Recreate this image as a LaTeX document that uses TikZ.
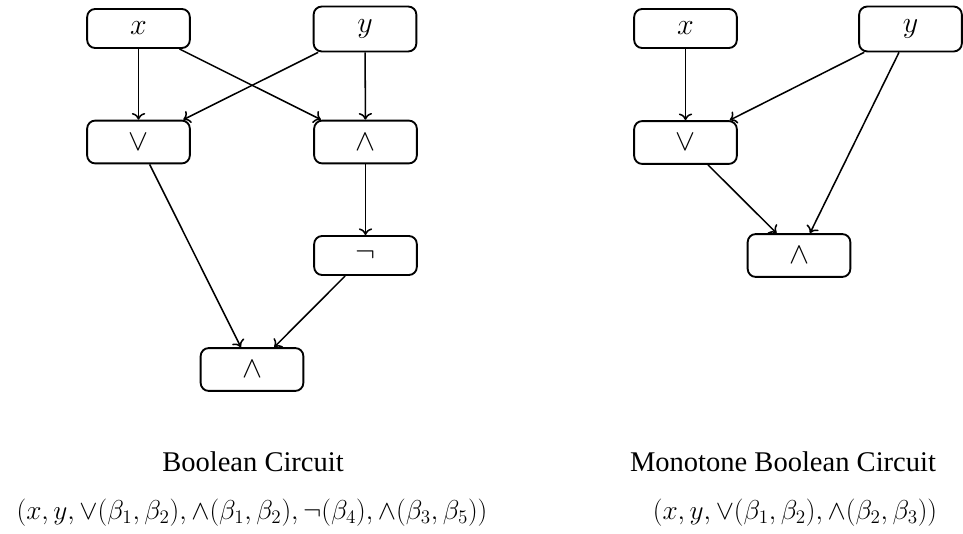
\RequirePackage{fix-cm}
\documentclass[tikz,border=0pt]{standalone}
\usepackage{fontspec}
\setmainfont{Liberation Serif}
\usetikzlibrary{arrows.meta}
\begin{document}
\begin{tikzpicture}[x=0.75pt,y=-0.75pt,
  gate/.style={draw,line width=1.4pt,rounded corners=6pt,minimum width=77pt,
    inner xsep=2pt,inner ysep=9.8pt,font=\fontsize{22.5}{27}\selectfont},
  wire/.style={line width=1.15pt,-{To[length=5pt,width=10pt]}},
  caption/.style={anchor=base,inner sep=0pt,font=\fontsize{21.4}{26}\selectfont},
  tuple/.style={anchor=base,inner sep=0pt,font=\fontsize{20.5}{25}\selectfont}]
\useasboundingbox (0,0) rectangle (963,534);
% left circuit
\node[gate] (lx) at (138.5,28.5) {$x$};
\node[gate] (ly) at (365,29) {$y$};
\node[gate] (lor) at (138.5,142) {$\vee$};
\node[gate] (land) at (365.5,142) {$\wedge$};
\node[gate] (lneg) at (365.5,255.5) {$\neg$};
\node[gate] (lout) at (252,369.5) {$\wedge$};
\draw[wire] (lx) -- (lor);
\draw[wire] (lx) -- (land);
\draw[wire] (ly) -- (lor);
\draw[wire] (ly) -- (land);
\draw[wire] (land) -- (lneg);
\draw[wire] (lor) -- (lout);
\draw[wire] (lneg) -- (lout);
% right circuit
\node[gate] (rx) at (685.5,28.5) {$x$};
\node[gate] (ry) at (910.5,29) {$y$};
\node[gate] (ror) at (685.5,142.5) {$\vee$};
\node[gate] (rand) at (799,255.5) {$\wedge$};
\draw[wire] (rx) -- (ror);
\draw[wire] (ry) -- (ror);
\draw[wire] (ry) -- (rand);
\draw[wire] (ror) -- (rand);
% captions
\node[caption] (lcap) at (253,471) {Boolean Circuit};
\node[tuple] (ltup) at (252,519) {$(x,y,\vee(\beta_1,\beta_2),\wedge(\beta_1,\beta_2),\neg(\beta_4),\wedge(\beta_3,\beta_5))$};
\node[caption] (rcap) at (783,471) {Monotone Boolean Circuit};
\node[tuple] (rtup) at (795,519) {$(x,y,\vee(\beta_1,\beta_2),\wedge(\beta_2,\beta_3))$};
\end{tikzpicture}
\end{document}
